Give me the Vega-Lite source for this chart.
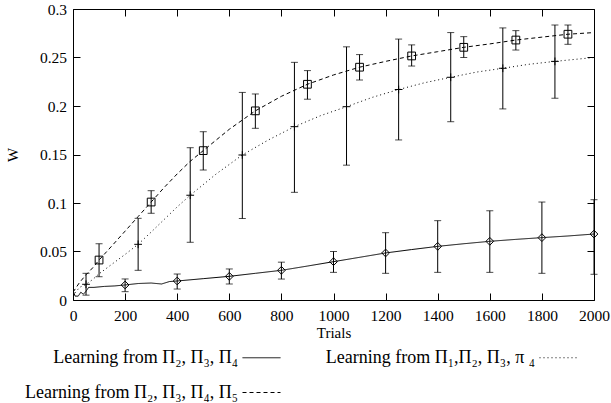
{
  "$schema": "https://vega.github.io/schema/vega-lite/v6.json",
  "width": 521,
  "height": 291,
  "autosize": {"type": "none"},
  "padding": {"left": 73, "top": 9, "right": 17, "bottom": 103},
  "background": "white",
  "config": {
    "font": "Liberation Serif",
    "view": {"stroke": "black", "strokeWidth": 1},
    "axis": {
      "domain": false,
      "grid": false,
      "tickSize": -7,
      "tickColor": "black",
      "tickWidth": 1,
      "labelFont": "Liberation Serif",
      "labelFontSize": 15.5,
      "labelColor": "black",
      "labelFlush": false,
      "labelOverlap": false,
      "titleFont": "Liberation Serif",
      "titleFontSize": 15,
      "titleFontWeight": "normal",
      "titleColor": "black"
    }
  },
  "datasets": {
    "curves": [
      {"s": "s1", "t": 0, "w": 0.010}, {"s": "s1", "t": 8, "w": 0.004}, {"s": "s1", "t": 20, "w": 0.004}, {"s": "s1", "t": 30, "w": 0.008},
      {"s": "s1", "t": 40, "w": 0.006}, {"s": "s1", "t": 50, "w": 0.009}, {"s": "s1", "t": 60, "w": 0.013}, {"s": "s1", "t": 80, "w": 0.013},
      {"s": "s1", "t": 120, "w": 0.014}, {"s": "s1", "t": 160, "w": 0.0145}, {"s": "s1", "t": 200, "w": 0.0155}, {"s": "s1", "t": 250, "w": 0.017},
      {"s": "s1", "t": 300, "w": 0.0175}, {"s": "s1", "t": 340, "w": 0.0165}, {"s": "s1", "t": 370, "w": 0.019}, {"s": "s1", "t": 400, "w": 0.0196},
      {"s": "s1", "t": 500, "w": 0.022}, {"s": "s1", "t": 600, "w": 0.0244}, {"s": "s1", "t": 700, "w": 0.0275}, {"s": "s1", "t": 800, "w": 0.0306},
      {"s": "s1", "t": 900, "w": 0.035}, {"s": "s1", "t": 1000, "w": 0.0395}, {"s": "s1", "t": 1100, "w": 0.044}, {"s": "s1", "t": 1200, "w": 0.0485},
      {"s": "s1", "t": 1300, "w": 0.052}, {"s": "s1", "t": 1400, "w": 0.0553}, {"s": "s1", "t": 1500, "w": 0.058}, {"s": "s1", "t": 1600, "w": 0.0605},
      {"s": "s1", "t": 1700, "w": 0.0625}, {"s": "s1", "t": 1800, "w": 0.0643}, {"s": "s1", "t": 1900, "w": 0.066}, {"s": "s1", "t": 2000, "w": 0.068},

      {"s": "s2", "t": 0, "w": 0.004}, {"s": "s2", "t": 10, "w": 0.008}, {"s": "s2", "t": 25, "w": 0.013}, {"s": "s2", "t": 50, "w": 0.0162},
      {"s": "s2", "t": 75, "w": 0.021}, {"s": "s2", "t": 100, "w": 0.027}, {"s": "s2", "t": 150, "w": 0.037}, {"s": "s2", "t": 200, "w": 0.047},
      {"s": "s2", "t": 250, "w": 0.0574}, {"s": "s2", "t": 300, "w": 0.070}, {"s": "s2", "t": 350, "w": 0.083}, {"s": "s2", "t": 400, "w": 0.096},
      {"s": "s2", "t": 450, "w": 0.108}, {"s": "s2", "t": 550, "w": 0.130}, {"s": "s2", "t": 650, "w": 0.1495}, {"s": "s2", "t": 750, "w": 0.165},
      {"s": "s2", "t": 850, "w": 0.1787}, {"s": "s2", "t": 950, "w": 0.190}, {"s": "s2", "t": 1050, "w": 0.1993}, {"s": "s2", "t": 1150, "w": 0.209},
      {"s": "s2", "t": 1250, "w": 0.217}, {"s": "s2", "t": 1350, "w": 0.224}, {"s": "s2", "t": 1450, "w": 0.2296}, {"s": "s2", "t": 1550, "w": 0.235},
      {"s": "s2", "t": 1650, "w": 0.2389}, {"s": "s2", "t": 1750, "w": 0.243}, {"s": "s2", "t": 1850, "w": 0.246}, {"s": "s2", "t": 2000, "w": 0.250},

      {"s": "s3", "t": 0, "w": 0.008}, {"s": "s3", "t": 25, "w": 0.018}, {"s": "s3", "t": 50, "w": 0.026}, {"s": "s3", "t": 75, "w": 0.033},
      {"s": "s3", "t": 100, "w": 0.0412}, {"s": "s3", "t": 150, "w": 0.056}, {"s": "s3", "t": 200, "w": 0.071}, {"s": "s3", "t": 250, "w": 0.086},
      {"s": "s3", "t": 300, "w": 0.101}, {"s": "s3", "t": 350, "w": 0.116}, {"s": "s3", "t": 400, "w": 0.130}, {"s": "s3", "t": 450, "w": 0.143},
      {"s": "s3", "t": 500, "w": 0.154}, {"s": "s3", "t": 600, "w": 0.176}, {"s": "s3", "t": 700, "w": 0.195}, {"s": "s3", "t": 800, "w": 0.210},
      {"s": "s3", "t": 900, "w": 0.2224}, {"s": "s3", "t": 1000, "w": 0.232}, {"s": "s3", "t": 1100, "w": 0.240}, {"s": "s3", "t": 1200, "w": 0.246},
      {"s": "s3", "t": 1300, "w": 0.2516}, {"s": "s3", "t": 1400, "w": 0.256}, {"s": "s3", "t": 1500, "w": 0.2605}, {"s": "s3", "t": 1600, "w": 0.264},
      {"s": "s3", "t": 1700, "w": 0.268}, {"s": "s3", "t": 1800, "w": 0.271}, {"s": "s3", "t": 1900, "w": 0.274}, {"s": "s3", "t": 2000, "w": 0.2757}
    ],
    "points": [
      {"g": "p1", "t": 200, "w": 0.0155, "lo": 0.0086, "hi": 0.0217},
      {"g": "p1", "t": 400, "w": 0.0196, "lo": 0.0113, "hi": 0.0268},
      {"g": "p1", "t": 600, "w": 0.0244, "lo": 0.0165, "hi": 0.032},
      {"g": "p1", "t": 800, "w": 0.0306, "lo": 0.0216, "hi": 0.039},
      {"g": "p1", "t": 1000, "w": 0.0395, "lo": 0.0285, "hi": 0.050},
      {"g": "p1", "t": 1200, "w": 0.0485, "lo": 0.0275, "hi": 0.0694},
      {"g": "p1", "t": 1400, "w": 0.0553, "lo": 0.0285, "hi": 0.0818},
      {"g": "p1", "t": 1600, "w": 0.0605, "lo": 0.0285, "hi": 0.092},
      {"g": "p1", "t": 1800, "w": 0.0643, "lo": 0.0275, "hi": 0.101},
      {"g": "p1", "t": 2000, "w": 0.068, "lo": 0.0265, "hi": 0.1034},
      {"g": "p2", "t": 50, "w": 0.0162, "lo": 0.005, "hi": 0.0275},
      {"g": "p2", "t": 250, "w": 0.0574, "lo": 0.0306, "hi": 0.0842},
      {"g": "p2", "t": 450, "w": 0.108, "lo": 0.0595, "hi": 0.157},
      {"g": "p2", "t": 650, "w": 0.1495, "lo": 0.084, "hi": 0.214},
      {"g": "p2", "t": 850, "w": 0.1787, "lo": 0.111, "hi": 0.245},
      {"g": "p2", "t": 1050, "w": 0.1993, "lo": 0.139, "hi": 0.261},
      {"g": "p2", "t": 1250, "w": 0.217, "lo": 0.165, "hi": 0.269},
      {"g": "p2", "t": 1450, "w": 0.2296, "lo": 0.1838, "hi": 0.2757},
      {"g": "p2", "t": 1650, "w": 0.2389, "lo": 0.197, "hi": 0.2805},
      {"g": "p2", "t": 1850, "w": 0.246, "lo": 0.208, "hi": 0.2835},
      {"g": "p3", "t": 100, "w": 0.0412, "lo": 0.024, "hi": 0.058},
      {"g": "p3", "t": 300, "w": 0.101, "lo": 0.0894, "hi": 0.1127},
      {"g": "p3", "t": 500, "w": 0.154, "lo": 0.134, "hi": 0.1735},
      {"g": "p3", "t": 700, "w": 0.195, "lo": 0.177, "hi": 0.2124},
      {"g": "p3", "t": 900, "w": 0.2224, "lo": 0.207, "hi": 0.2365},
      {"g": "p3", "t": 1100, "w": 0.240, "lo": 0.2268, "hi": 0.253},
      {"g": "p3", "t": 1300, "w": 0.2516, "lo": 0.2412, "hi": 0.263},
      {"g": "p3", "t": 1500, "w": 0.2605, "lo": 0.250, "hi": 0.2715},
      {"g": "p3", "t": 1700, "w": 0.268, "lo": 0.2577, "hi": 0.2777},
      {"g": "p3", "t": 1900, "w": 0.274, "lo": 0.2636, "hi": 0.2835}
    ]
  },
  "layer": [
    {
      "data": {"name": "curves"},
      "mark": {"type": "line", "color": "black", "strokeWidth": 1, "clip": true},
      "encoding": {
        "x": {"field": "t", "type": "quantitative", "scale": {"domain": [0, 2000], "nice": false, "zero": false},
              "axis": {"orient": "bottom", "title": "Trials", "values": [0, 200, 400, 600, 800, 1000, 1200, 1400, 1600, 1800, 2000], "format": "d", "labelPadding": 15, "titlePadding": 2}},
        "y": {"field": "w", "type": "quantitative", "scale": {"domain": [0, 0.3], "nice": false},
              "axis": {"orient": "left", "title": "W", "values": [0, 0.05, 0.1, 0.15, 0.2, 0.25, 0.3], "format": "~g", "labelPadding": 13.5, "titlePadding": 19}},
        "strokeDash": {
          "field": "s", "type": "nominal",
          "scale": {"domain": ["s1", "s2", "s3"], "range": [[1, 0], [1, 3], [4, 3]]},
          "legend": {
            "orient": "none", "legendX": 169, "legendY": 329,
            "direction": "horizontal", "columns": 2, "title": null,
            "symbolType": "stroke", "symbolSize": 1444, "symbolStrokeWidth": 1, "symbolStrokeColor": "black",
            "labelFont": "Liberation Serif", "labelFontSize": 18, "labelColor": "black", "labelLimit": 0,
            "labelAlign": "right", "labelOffset": -43,
            "columnPadding": 42, "rowPadding": 6,
            "labelExpr": "datum.label == 's1' ? 'Learning from Π₂, Π₃, Π₄' : datum.label == 's2' ? 'Learning from Π₁,Π₂, Π₃, π ₄' : 'Learning from Π₂, Π₃, Π₄, Π₅'"
          }
        }
      }
    },
    {
      "data": {"name": "points"},
      "mark": {"type": "rule", "color": "black", "strokeWidth": 1},
      "encoding": {
        "x": {"field": "t", "type": "quantitative",
              "axis": {"orient": "top", "title": null, "labels": false, "values": [0, 200, 400, 600, 800, 1000, 1200, 1400, 1600, 1800, 2000]}},
        "y": {"field": "lo", "type": "quantitative",
              "axis": {"orient": "right", "title": null, "labels": false, "values": [0, 0.05, 0.1, 0.15, 0.2, 0.25, 0.3]}},
        "y2": {"field": "hi"}
      }
    },
    {
      "data": {"name": "points"},
      "mark": {"type": "tick", "orient": "horizontal", "color": "black", "size": 7, "thickness": 1},
      "encoding": {
        "x": {"field": "t", "type": "quantitative", "axis": null},
        "y": {"field": "lo", "type": "quantitative", "axis": null}
      }
    },
    {
      "data": {"name": "points"},
      "mark": {"type": "tick", "orient": "horizontal", "color": "black", "size": 7, "thickness": 1},
      "encoding": {
        "x": {"field": "t", "type": "quantitative", "axis": null},
        "y": {"field": "hi", "type": "quantitative", "axis": null}
      }
    },
    {
      "data": {"name": "points"},
      "mark": {"type": "point", "filled": false, "color": "black", "strokeWidth": 1, "size": 60, "opacity": 1},
      "encoding": {
        "x": {"field": "t", "type": "quantitative", "axis": null},
        "y": {"field": "w", "type": "quantitative", "axis": null},
        "shape": {"field": "g", "type": "nominal",
                  "scale": {"domain": ["p1", "p2", "p3"], "range": ["diamond", "M-1,0H1M0,-1V1", "square"]},
                  "legend": null}
      }
    }
  ],
  "resolve": {"axis": {"x": "independent", "y": "independent"}}
}
